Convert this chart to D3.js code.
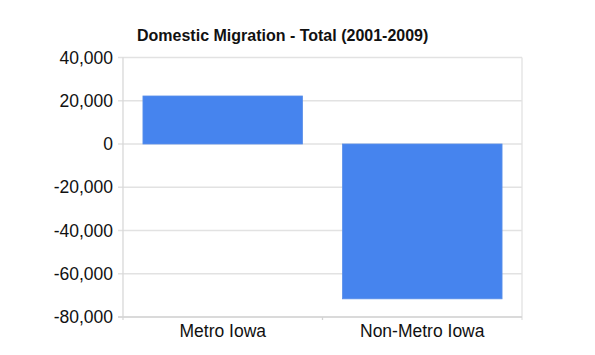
<!DOCTYPE html>
<html><head><meta charset="utf-8">
<script src="https://cdn.jsdelivr.net/npm/d3@7"></script>
<style>body{margin:0;background:#fff}svg{display:block}text{font-family:"Liberation Sans",Arial,sans-serif}</style>
</head><body>
<svg id="c" width="595" height="355"></svg>
<script>
const categories = ["Metro Iowa", "Non-Metro Iowa"];
const values = [22200, -71600];
const yTicks = [40000, 20000, 0, -20000, -40000, -60000, -80000];
const title = "Domestic Migration - Total (2001-2009)";

const svg = d3.select("#c");
const m = {left: 123, right: 522, top: 57.5, bottom: 317};
const x = d3.scaleBand().domain(categories).range([m.left, m.right]).paddingInner(0.2).paddingOuter(0.1);
const y = d3.scaleLinear().domain([-80000, 40000]).range([m.bottom, m.top]);
const fmt = d => d3.format(",")(d).replace("\u2212", "-");

// gridlines
svg.append("g").selectAll("line").data(yTicks).join("line")
  .attr("x1", m.left - 5).attr("x2", m.right)
  .attr("y1", d => y(d)).attr("y2", d => y(d))
  .attr("stroke", "#e2e2e2").attr("stroke-width", 1.3);
// frame right
svg.append("line").attr("x1", m.right).attr("x2", m.right).attr("y1", m.top).attr("y2", m.bottom + 3)
  .attr("stroke", "#e2e2e2").attr("stroke-width", 1.3);
// left axis
svg.append("line").attr("x1", m.left).attr("x2", m.left).attr("y1", m.top).attr("y2", m.bottom + 3)
  .attr("stroke", "#d8d8d8").attr("stroke-width", 1.3);
// bottom axis
svg.append("line").attr("x1", m.left - 5).attr("x2", m.right).attr("y1", m.bottom).attr("y2", m.bottom)
  .attr("stroke", "#d4d4d4").attr("stroke-width", 1.5);
// x tick between categories
const mid = (x(categories[0]) + x.bandwidth() + x(categories[1])) / 2;
svg.append("line").attr("x1", mid).attr("x2", mid)
  .attr("y1", m.bottom).attr("y2", m.bottom + 3).attr("stroke", "#d4d4d4").attr("stroke-width", 1.3);

// bars
svg.append("g").selectAll("rect").data(values).join("rect")
  .attr("x", (d, i) => x(categories[i]))
  .attr("width", x.bandwidth())
  .attr("y", d => y(Math.max(0, d)))
  .attr("height", d => Math.abs(y(d) - y(0)))
  .attr("fill", "#4684ee").attr("stroke", "#5b8fe8").attr("stroke-width", 0.8);

// y labels
svg.append("g").selectAll("text").data(yTicks).join("text")
  .attr("x", 113).attr("y", d => y(d)).attr("dy", "0.35em")
  .attr("text-anchor", "end").attr("font-size", 17.5).attr("fill", "#111")
  .text(d => fmt(d));

// x labels
svg.append("g").selectAll("text").data(categories).join("text")
  .attr("x", d => x(d) + x.bandwidth() / 2).attr("y", 337)
  .attr("text-anchor", "middle").attr("font-size", 17.5).attr("fill", "#111")
  .text(d => d);

// title
svg.append("text").attr("x", 137).attr("y", 41).attr("font-size", 16).attr("font-weight", "bold")
  .attr("fill", "#111").text(title);
</script>
</body></html>
